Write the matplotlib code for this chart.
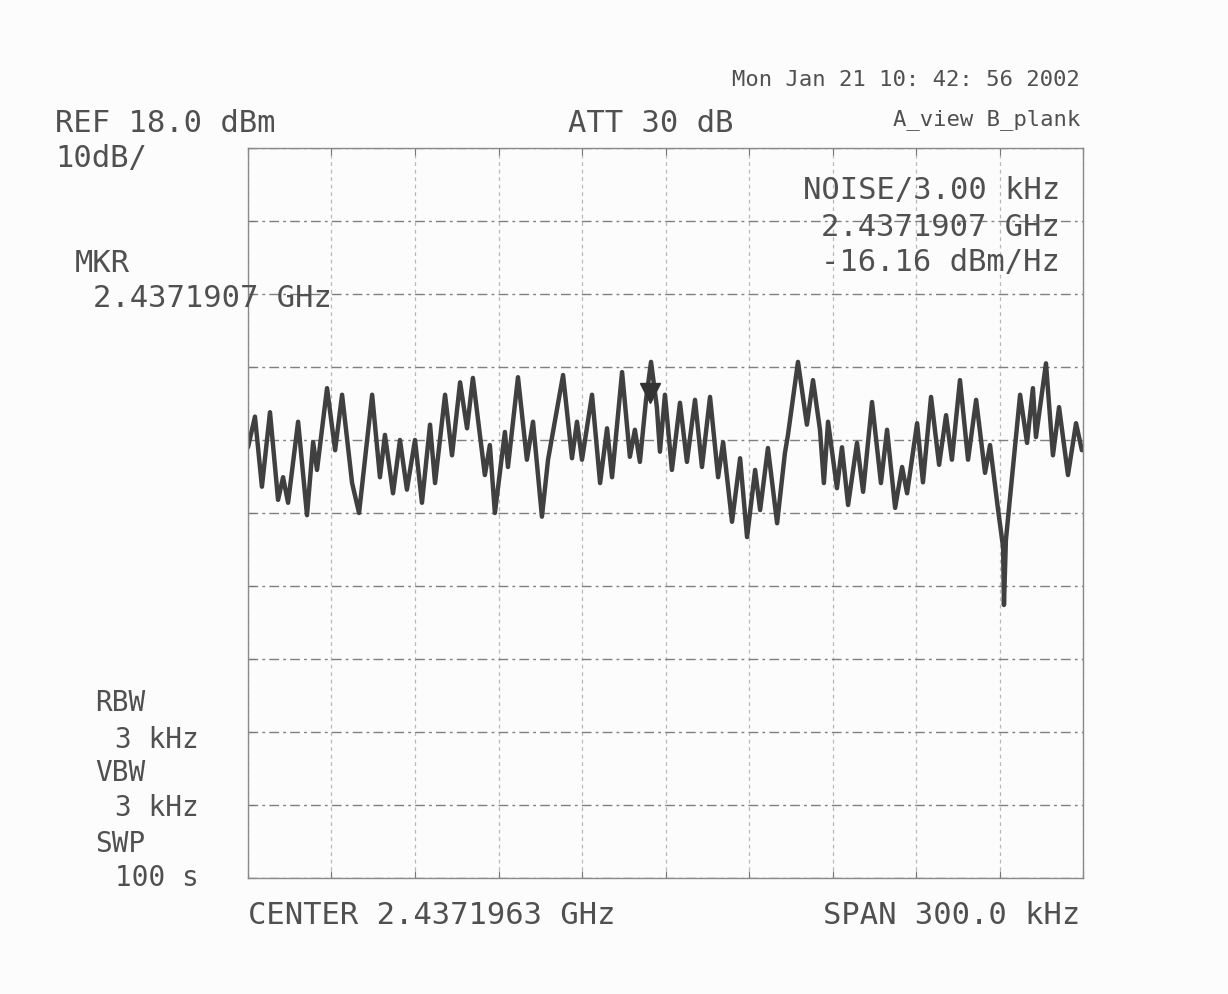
import numpy as np
import matplotlib.pyplot as plt

# spectrum analyzer screen dump, offsets from center frequency
freq_khz = [-150.0, -147.5, -145.0, -142.1, -139.2, -137.4, -135.6, -132.0, -128.8, -126.6,
            -125.2, -121.6, -118.7, -116.2, -112.6, -110.1, -105.4, -102.6, -100.8, -97.9,
            -95.4, -92.9, -90.0, -87.5, -84.6, -82.8, -79.2, -76.7, -73.8, -71.3,
            -69.2, -64.9, -63.1, -61.3, -57.7, -56.6, -53.0, -49.8, -47.6, -44.4,
            -42.2, -36.8, -33.6, -31.8, -30.0, -26.4, -23.5, -21.0, -19.2, -15.6,
            -12.8, -11.0, -9.2, -7.0, -5.2, -3.1, -2.0, -0.2, 2.3, 5.2,
            7.7, 10.6, 13.1, 16.0, 18.9, 20.7, 23.9, 26.8, 29.3, 32.2,
            34.0, 36.8, 40.1, 42.9, 44.0, 47.6, 50.8, 53.0, 55.5, 56.9,
            58.4, 61.6, 63.4, 65.6, 68.8, 71.0, 74.2, 77.4, 79.6, 82.5,
            85.0, 86.8, 90.4, 92.5, 95.4, 98.3, 100.8, 102.9, 105.8, 108.7,
            111.6, 114.8, 116.6, 119.5, 121.3, 121.6, 122.3, 123.8, 127.4, 129.9,
            132.0, 133.1, 136.7, 139.2, 141.4, 144.6, 147.5, 149.6]
level_dbm = [-23.0, -18.8, -28.4, -18.2, -30.2, -27.1, -30.6, -19.5, -32.3, -22.3,
             -26.1, -14.9, -23.4, -15.8, -27.9, -32.0, -15.8, -27.1, -21.3, -29.3,
             -22.0, -28.8, -22.0, -30.6, -19.9, -27.9, -15.8, -24.1, -14.1, -20.4,
             -13.5, -26.8, -22.7, -32.0, -20.9, -25.7, -13.4, -24.7, -19.5, -32.5,
             -24.7, -13.1, -24.5, -19.5, -24.7, -15.8, -27.9, -20.4, -27.1, -12.7,
             -24.3, -20.6, -25.0, -16.5, -11.3, -17.5, -23.6, -15.8, -26.1, -16.9,
             -25.0, -16.5, -25.7, -16.1, -27.1, -22.3, -33.2, -24.5, -35.3, -26.1,
             -31.6, -23.1, -33.4, -23.8, -21.3, -11.3, -19.9, -13.8, -20.6, -27.9,
             -19.5, -28.6, -23.0, -30.9, -22.4, -29.1, -16.8, -27.9, -20.6, -31.3,
             -25.7, -29.3, -19.7, -27.8, -16.1, -25.4, -18.6, -24.7, -13.8, -24.7,
             -16.5, -26.5, -22.7, -31.6, -36.7, -44.6, -35.7, -29.8, -15.8, -22.4,
             -14.9, -21.6, -11.5, -24.1, -17.5, -26.8, -19.7, -23.4]

ref_level = 18.0
db_per_div = 10
span_khz = 300.0
marker_khz = -5.6
marker_dbm = -15.6

W, H = 1228, 994
fig = plt.figure(figsize=(W / 100, H / 100), dpi=100)
fig.patch.set_facecolor('#fcfcfd')

ax = fig.add_axes([248 / W, 1 - 878 / H, (1083 - 248) / W, (878 - 148) / H])
ax.set_facecolor('#fcfcfd')
ax.set_xlim(-span_khz / 2, span_khz / 2)
ax.set_ylim(ref_level - 10 * db_per_div, ref_level)
ax.set_xticks(np.linspace(-span_khz / 2, span_khz / 2, 11))
ax.set_yticks(np.arange(ref_level - 10 * db_per_div, ref_level + 1, db_per_div))
ax.tick_params(labelbottom=False, labelleft=False, direction='in', length=5,
               color='#777777', top=True, right=False)
ax.grid(axis='y', color='#808080', linestyle=(0, (7, 3, 2, 3)), linewidth=1.0)
ax.grid(axis='x', color='#b8b8b8', linestyle=(0, (3, 3)), linewidth=0.9)
for s in ax.spines.values():
    s.set_color('#8a8a8a')
    s.set_linewidth(1.0)

ax.plot(freq_khz, level_dbm, color='#404040', linewidth=3.2,
        solid_joinstyle='round', solid_capstyle='round')
ax.plot([marker_khz], [marker_dbm], marker='v', markersize=15, color='#333333')

mono = 'DejaVu Sans Mono'
tc = '#505050'


def put(x, y, s, size=22, ha='left'):
    fig.text(x / W, 1 - y / H, s, fontsize=size, family=mono, color=tc,
             ha=ha, va='center')


put(55, 123, 'REF 18.0 dBm')
put(55, 158, '10dB/')
put(75, 264, 'MKR')
put(93, 298, '2.4371907 GHz')
put(568, 123, 'ATT 30 dB')
put(1080, 80, 'Mon Jan 21 10: 42: 56 2002', size=16, ha='right')
put(1080, 120, 'A_view B_plank', size=16, ha='right')
put(1060, 190, 'NOISE/3.00 kHz', ha='right')
put(1060, 227, '2.4371907 GHz', ha='right')
put(1060, 262, '-16.16 dBm/Hz', ha='right')
put(95, 703, 'RBW', size=20)
put(115, 740, '3 kHz', size=20)
put(95, 773, 'VBW', size=20)
put(115, 808, '3 kHz', size=20)
put(95, 844, 'SWP', size=20)
put(115, 878, '100 s', size=20)
put(248, 916, 'CENTER 2.4371963 GHz')
put(1080, 916, 'SPAN 300.0 kHz', ha='right')

fig.savefig('out.png', dpi=100, facecolor=fig.get_facecolor())
